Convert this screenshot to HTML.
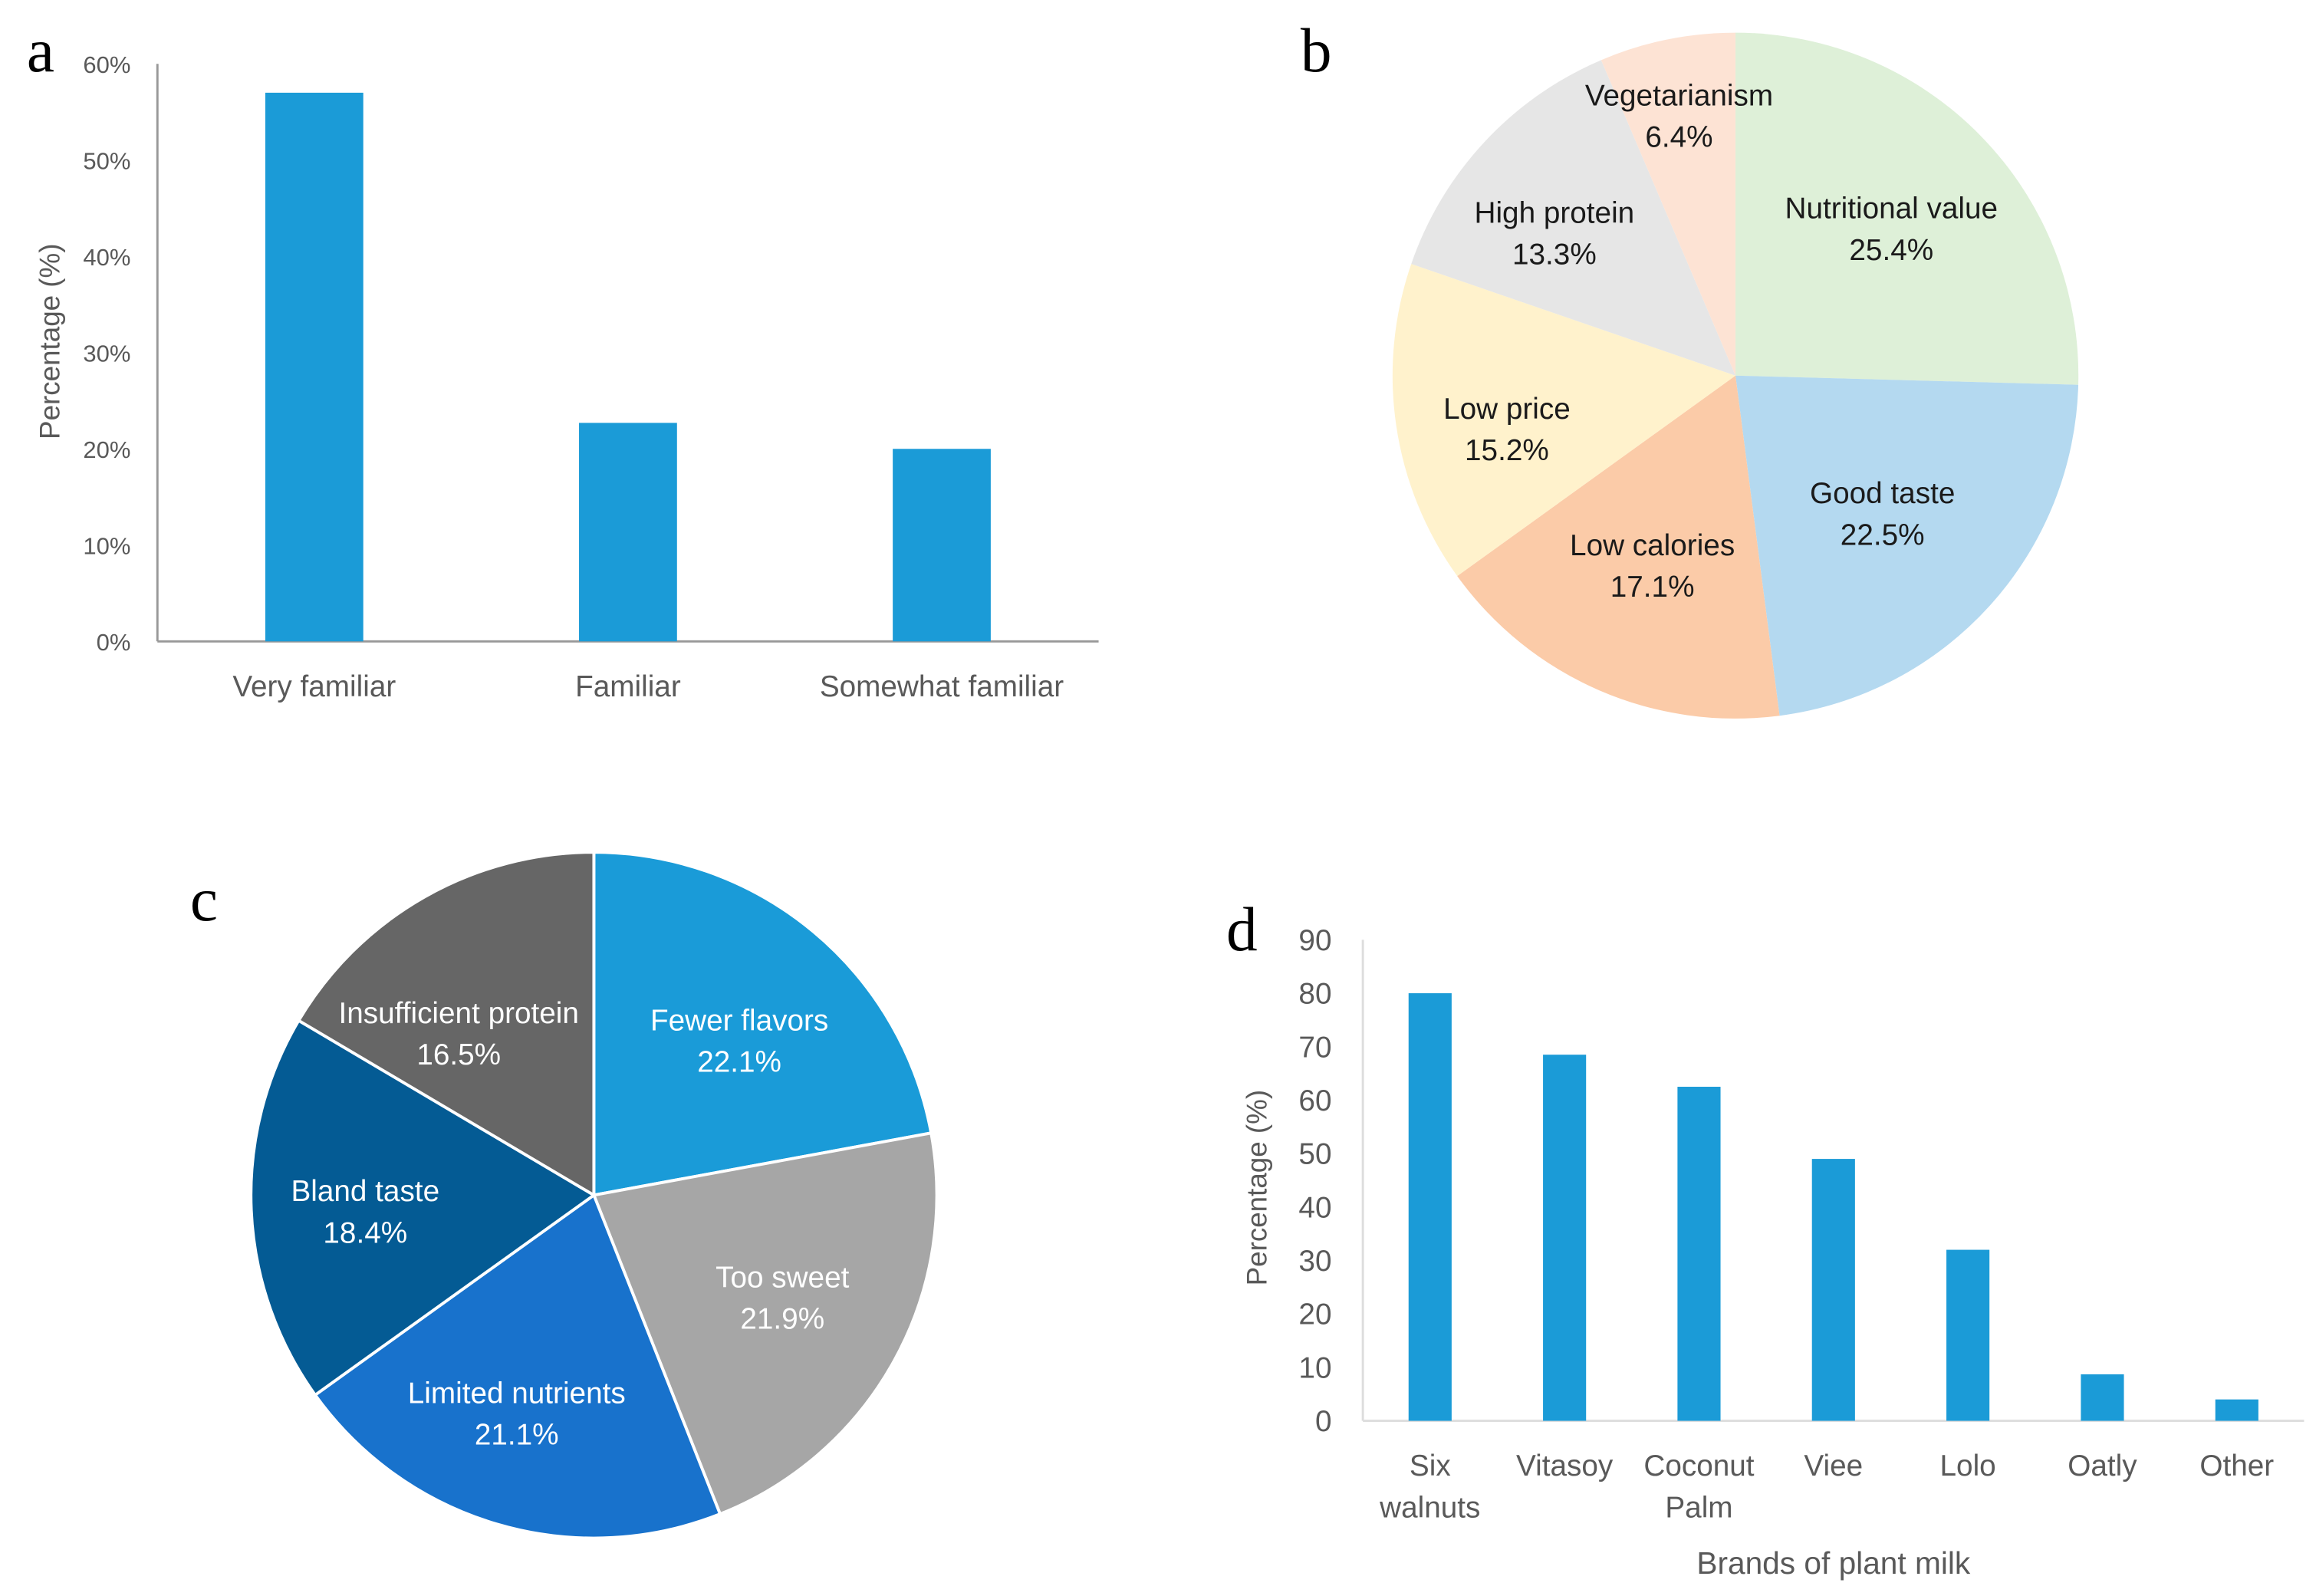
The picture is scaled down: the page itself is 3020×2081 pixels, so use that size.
<!DOCTYPE html>
<html><head><meta charset="utf-8"><style>
html,body{margin:0;padding:0;background:#fff;}
svg{display:block;}
text{font-family:"Liberation Sans",sans-serif;}
text.letter{font-family:"Liberation Serif",serif;}
</style></head><body>
<svg id="fig" width="3020" height="2081" viewBox="0 0 1560 1075" xmlns="http://www.w3.org/2000/svg">
<rect width="1560" height="1075" fill="#fff"/>
<g id="pa"></g>
<g id="pb"></g>
<g id="pc"></g>
<g id="pd"></g>
</svg>
<script>
// Panel a data
const aCategories = ["Very familiar", "Familiar", "Somewhat familiar"];
const aValues = [57, 22.7, 20];
const aTicks = [0, 10, 20, 30, 40, 50, 60];
// Panel b data
const bLabels = ["Nutritional value", "Good taste", "Low calories", "Low price", "High protein", "Vegetarianism"];
const bValues = [25.4, 22.5, 17.1, 15.2, 13.3, 6.4];
// Panel c data
const cLabels = ["Fewer flavors", "Too sweet", "Limited nutrients", "Bland taste", "Insufficient protein"];
const cValues = [22.1, 21.9, 21.1, 18.4, 16.5];
// Panel d data
const dCategories = [["Six","walnuts"], ["Vitasoy"], ["Coconut","Palm"], ["Viee"], ["Lolo"], ["Oatly"], ["Other"]];
const dValues = [80, 68.5, 62.5, 49, 32, 8.7, 4];
const dTicks = [0, 10, 20, 30, 40, 50, 60, 70, 80, 90];

const NS = "http://www.w3.org/2000/svg";
function mk(tag, attrs, parent, txt) {
  const e = document.createElementNS(NS, tag);
  for (const k in attrs) e.setAttribute(k, attrs[k]);
  if (txt !== undefined) e.textContent = txt;
  parent.appendChild(e);
  return e;
}

// ---------- Panel a ----------
(function(){
  const g = document.getElementById('pa');
  const x0 = 106, x1 = 740, y0 = 432, yTop = 43, vmax = 60;
  const ys = v => y0 - (v / vmax) * (y0 - yTop);
  const slot = (x1 - x0) / aCategories.length;
  const L = mk('text', {x:18, y:48, 'font-size':42, 'class':'letter', fill:'#000'}, g, 'a');
  
  
  aTicks.forEach(t => {
    const tl = mk('text', {x:88, y:ys(t)+6, 'font-size':16, fill:'#595959', 'text-anchor':'end'}, g, t + '%');
    
    
  });
  const ax = mk('line', {x1:x0, y1:yTop, x2:x0, y2:y0, stroke:'#999', 'stroke-width':1.5}, g);
  
  
  const xa = mk('line', {x1:x0, y1:y0, x2:x1, y2:y0, stroke:'#999', 'stroke-width':1.5}, g);
  
  
  aValues.forEach((v, i) => {
    const cx = x0 + slot * (i + 0.5);
    const b = mk('rect', {x:cx - 33, y:ys(v), width:66, height:y0 - ys(v), fill:'#1B9BD7'}, g);
    
    
    const t = mk('text', {x:cx, y:469, 'font-size':20, fill:'#595959', 'text-anchor':'middle'}, g, aCategories[i]);
    
    
  });
  const yt = mk('text', {x:0, y:0, 'font-size':19, fill:'#595959', 'text-anchor':'middle', transform:'translate(40,230) rotate(-90)'}, g, 'Percentage (%)');
  
  
})();

// ---------- Pie helper ----------
function pie(g, cx, cy, r, values, labels, colors, labelPos, textColor, stroke, prefix) {
  const total = values.reduce((a, b) => a + b, 0);
  let a0 = 0;
  values.forEach((v, i) => {
    const a1 = a0 + v / total * 2 * Math.PI;
    const p0 = [cx + r * Math.sin(a0), cy - r * Math.cos(a0)];
    const p1 = [cx + r * Math.sin(a1), cy - r * Math.cos(a1)];
    const large = (a1 - a0) > Math.PI ? 1 : 0;
    const s = mk('path', {d:`M${cx},${cy} L${p0[0]},${p0[1]} A${r},${r} 0 ${large} 1 ${p1[0]},${p1[1]} Z`, fill:colors[i], stroke:stroke, 'stroke-width':stroke === 'none' ? 0 : 2}, g);
    
    
    a0 = a1;
  });
  values.forEach((v, i) => {
    const [lx, ly] = labelPos[i];
    const t1 = mk('text', {x:lx, y:ly, 'font-size':20, fill:textColor, 'text-anchor':'middle'}, g, labels[i]);
    
    
    const t2 = mk('text', {x:lx, y:ly + 28, 'font-size':20, fill:textColor, 'text-anchor':'middle'}, g, v.toFixed(1) + '%');
    
    
  });
}

// ---------- Panel b ----------
(function(){
  const g = document.getElementById('pb');
  const L = mk('text', {x:876, y:48, 'font-size':42, 'class':'letter', fill:'#000'}, g, 'b');
  
  
  pie(g, 1169, 253, 231, bValues, bLabels,
    ['#DEF0D8', '#B4D9F0', '#FBCBA8', '#FFF2CC', '#E6E6E6', '#FDE3D4'],
    [[1274,147],[1268,339],[1113,374],[1015,282],[1047,150],[1131,71]], '#1a1a1a', 'none', 'b');
})();

// ---------- Panel c ----------
(function(){
  const g = document.getElementById('pc');
  const L = mk('text', {x:128, y:620, 'font-size':42, 'class':'letter', fill:'#000'}, g, 'c');
  
  
  pie(g, 400, 805, 231, cValues, cLabels,
    ['#1A9BD8', '#A6A6A6', '#1872CC', '#045B94', '#666666'],
    [[498,694],[527,867],[348,945],[246,809],[309,689]], '#fff', '#fff', 'c');
})();

// ---------- Panel d ----------
(function(){
  const g = document.getElementById('pd');
  const x0 = 918, x1 = 1552, y0 = 957, yTop = 633, vmax = 90;
  const ys = v => y0 - (v / vmax) * (y0 - yTop);
  const slot = (x1 - x0) / dValues.length;
  const L = mk('text', {x:826, y:640, 'font-size':42, 'class':'letter', fill:'#000'}, g, 'd');
  
  
  dTicks.forEach(t => {
    const tl = mk('text', {x:897, y:ys(t)+7, 'font-size':20, fill:'#595959', 'text-anchor':'end'}, g, String(t));
    
    
  });
  const ax = mk('line', {x1:x0, y1:yTop, x2:x0, y2:y0, stroke:'#ddd', 'stroke-width':1.5}, g);
  
  
  const xa = mk('line', {x1:x0, y1:y0, x2:x1, y2:y0, stroke:'#ddd', 'stroke-width':1.5}, g);
  
  
  dValues.forEach((v, i) => {
    const cx = x0 + slot * (i + 0.5);
    const b = mk('rect', {x:cx - 14.5, y:ys(v), width:29, height:y0 - ys(v), fill:'#1B9BD7'}, g);
    
    
    dCategories[i].forEach((line, j) => {
      const t = mk('text', {x:cx, y:994 + j * 28, 'font-size':20, fill:'#595959', 'text-anchor':'middle'}, g, line);
      
      
    });
  });
  const yt = mk('text', {x:0, y:0, 'font-size':19, fill:'#595959', 'text-anchor':'middle', transform:'translate(853,800) rotate(-90)'}, g, 'Percentage (%)');
  
  
  const xt = mk('text', {x:1235, y:1060, 'font-size':21, fill:'#595959', 'text-anchor':'middle'}, g, 'Brands of plant milk');
  
  
})();
</script>
</body></html>
